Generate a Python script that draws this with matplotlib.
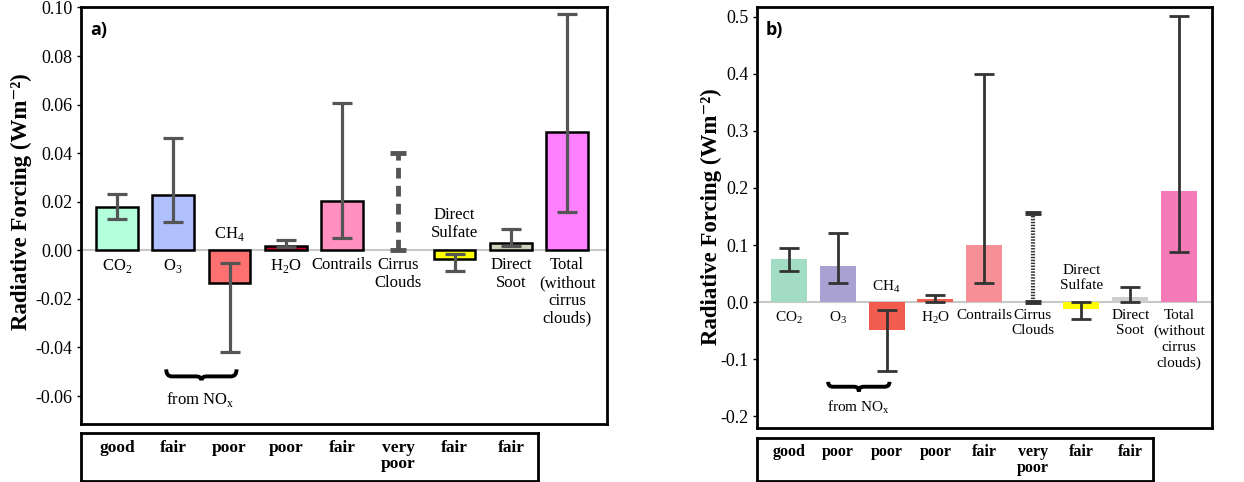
import numpy as np
import matplotlib
matplotlib.use('Agg')
import matplotlib.pyplot as plt
from matplotlib.path import Path
from matplotlib.patches import PathPatch
from matplotlib.transforms import blended_transform_factory

plt.rcParams['font.family'] = ['Liberation Serif', 'DejaVu Serif']
plt.rcParams['mathtext.fontset'] = 'custom'
plt.rcParams['mathtext.rm'] = 'Liberation Serif'

# categories and labels
names = ['CO2', 'O3', 'CH4', 'H2O', 'Contrails', 'Cirrus', 'Sulfate', 'Soot', 'Total']
labels = [r'CO$_\mathregular{2}$', r'O$_\mathregular{3}$', r'CH$_\mathregular{4}$',
          r'H$_\mathregular{2}$O', 'Contrails', 'Cirrus\nClouds', 'Direct\nSulfate',
          'Direct\nSoot', 'Total\n(without\ncirrus\nclouds)']

# panel a) values (W m-2)
rf_a = [0.018, 0.0229, -0.0136, 0.0016, 0.0205, 0.0, -0.0037, 0.0032, 0.0487]
lo_a = [0.0130, 0.0117, -0.0419, 0.0012, 0.0049, 0.0, -0.0085, 0.0018, 0.0158]
hi_a = [0.0232, 0.0464, -0.0051, 0.0042, 0.0605, 0.0402, -0.0014, 0.0089, 0.0975]
lou_a = ['good', 'fair', 'poor', 'poor', 'fair', 'very\npoor', 'fair', 'fair']

# panel b) values (W m-2)
rf_b = [0.0753, 0.063, -0.049, 0.0053, 0.0999, 0.0, -0.0117, 0.0093, 0.1945]
lo_b = [0.0543, 0.0327, -0.121, 0.0, 0.0327, 0.0, -0.029, 0.0, 0.0876]
hi_b = [0.0952, 0.1215, -0.0146, 0.0123, 0.3995, 0.156, 0.0, 0.0269, 0.501]
lou_b = ['good', 'poor', 'poor', 'poor', 'fair', 'very\npoor', 'fair', 'fair']

colors_a = ['#b3ffdc', '#b0c0ff', '#ff7070', '#c8002a', '#ff90c0', 'none', '#ffff00', '#d0d0bc', '#ff80ff']
colors_b = ['#a3dcc5', '#a9a1d2', '#f25c4e', '#f06050', '#f78f97', 'none', '#ffff00', '#cfcfcf', '#f57ab8']

W, H = 1244, 482
fig = plt.figure(figsize=(W / 100, H / 100), dpi=100)


def px_axes(x0, y0, x1, y1):
    return fig.add_axes([x0 / W, 1 - y1 / H, (x1 - x0) / W, (y1 - y0) / H])


def brace(ax, x0, x1, yt, ym, yb, lw):
    xc = (x0 + x1) / 2
    r = (x1 - x0) * 0.08
    verts = [(x0, yt), (x0, ym), (x0 + r, ym), (xc - r, ym), (xc, ym), (xc, yb),
             (xc, ym), (xc + r, ym), (x1 - r, ym), (x1, ym), (x1, yt)]
    codes = [Path.MOVETO, Path.CURVE3, Path.CURVE3, Path.LINETO, Path.CURVE3, Path.CURVE3,
             Path.CURVE3, Path.CURVE3, Path.LINETO, Path.CURVE3, Path.CURVE3]
    ax.add_patch(PathPatch(Path(verts, codes), fc='none', ec='black', lw=lw, clip_on=False))


def panel(box, tbox, rf, lo, hi, cols, lou, ylim, xlim, yticks, fmt, err_c, edge, fs, tfs, ls,
          tag, above, brace_y, nox_xy, ylab_xy, tab_y):
    ax = px_axes(*box)
    x = np.arange(len(names))
    ax.axhline(0, color='#c8c8c8', lw=1.5, zorder=1)
    for i in x:
        if names[i] == 'Cirrus':
            continue
        ax.bar(i, rf[i], width=0.74, color=cols[i],
               edgecolor='black' if edge else 'none', lw=1.8 if edge else 0, zorder=2)
    for i in x:
        mid = (lo[i] + hi[i]) / 2
        half = (hi[i] - lo[i]) / 2
        if names[i] == 'Cirrus':
            e = ax.errorbar(i, mid, yerr=half, fmt='none', ecolor=err_c, elinewidth=3.5 if edge else 3,
                            capsize=6, capthick=3.5, zorder=3)
            e.lines[2][0].set_linestyle((0, (2.2, 1.5)) if edge else (0, (0.35, 0.35)))
        else:
            ax.errorbar(i, mid, yerr=half, fmt='none', ecolor=err_c, elinewidth=2.3 if edge else 2,
                        capsize=7, capthick=2.3 if edge else 2, zorder=3)
    for i in x:
        if names[i] in above:
            ax.annotate(labels[i], (i, 0), xytext=(0, 5 if names[i] == 'CH4' else 7),
                        textcoords='offset points', ha='center', va='bottom', fontsize=fs,
                        linespacing=ls)
        else:
            ax.annotate(labels[i], (i, 0), xytext=(0, -5), textcoords='offset points',
                        ha='center', va='top', fontsize=fs, linespacing=ls)
    brace(ax, brace_y[0], brace_y[1], brace_y[2], brace_y[3], brace_y[4], 2.8)
    ax.text(nox_xy[0], nox_xy[1], r'from NO$_\mathregular{x}$', ha='center', va='center', fontsize=fs)
    ax.set_xlim(*xlim)
    ax.set_ylim(*ylim)
    ax.set_xticks([])
    ax.set_yticks(yticks)
    ax.set_yticklabels([fmt.format(v) for v in yticks], fontsize=tfs, family='Liberation Serif')
    ax.tick_params(axis='y', length=3, width=1, direction='out', pad=3)
    for s in ax.spines.values():
        s.set_linewidth(2)
    ax.text(0.018, 0.945, tag, transform=ax.transAxes, fontsize=13, fontweight='bold',
            family='Open Sans', va='center', ha='left')
    fig.text(ylab_xy[0] / W, 1 - ylab_xy[1] / H, 'Radiative Forcing (Wm\u207b\u00b2)',
             rotation=90, ha='center', va='center', fontsize=16.5, fontweight='bold')
    # lower table with level of scientific understanding
    tax = px_axes(*tbox)
    tax.set_xticks([])
    tax.set_yticks([])
    for s in tax.spines.values():
        s.set_linewidth(2)
    tr = blended_transform_factory(ax.transData, fig.transFigure)
    for i, t in enumerate(lou):
        fig.text(i, 1 - tab_y / H, t, transform=tr, ha='center', va='top', fontsize=fs + 0.5,
                 fontweight='bold', linespacing=1.0)
    return ax


panel((81, 7, 607, 424), (81, 433, 538, 481), rf_a, lo_a, hi_a, colors_a, lou_a,
      (-0.0715, 0.1002), (-0.64, 8.71), [-0.06, -0.04, -0.02, 0.0, 0.02, 0.04, 0.06, 0.08, 0.10],
      '{:.2f}', '#555555', True, 12, 13, 1.15, 'a)', {'CH4', 'Sulfate'},
      (0.875, 2.125, -0.049, -0.0519, -0.0535), (1.48, -0.0613), (21, 202), 440)

panel((757, 7, 1212, 428), (757, 438, 1153, 481), rf_b, lo_b, hi_b, colors_b, lou_b,
      (-0.221, 0.5175), (-0.66, 8.68), [-0.2, -0.1, 0.0, 0.1, 0.2, 0.3, 0.4, 0.5],
      '{:.1f}', '#333333', False, 11, 13, 1.25, 'b)', {'CH4', 'Sulfate'},
      (0.8, 2.06, -0.140, -0.1486, -0.157), (1.42, -0.184), (711, 217), 444)

fig.savefig('out.png', dpi=100)
